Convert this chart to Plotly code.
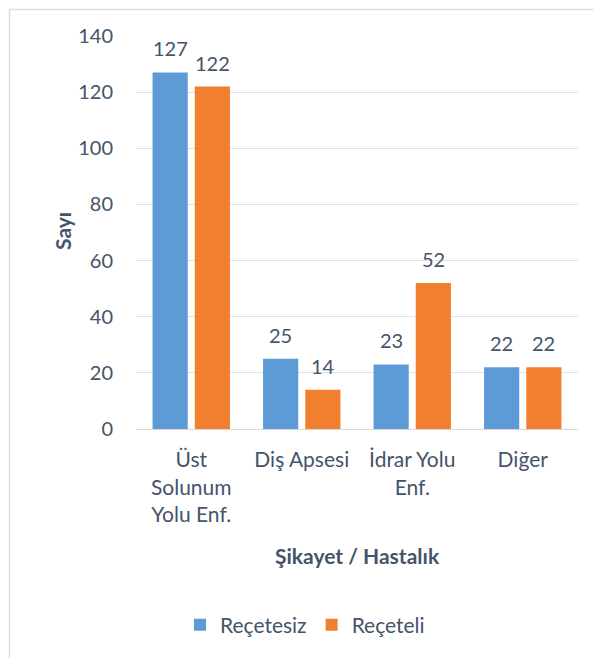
import plotly.graph_objects as go

categories = ["Üst<br>Solunum<br>Yolu Enf.", "Diş Apsesi", "İdrar Yolu<br>Enf.", "Diğer"]
receteliz = [127, 25, 23, 22]
receteli = [122, 14, 52, 22]
series_names = ["Reçetesiz", "Reçeteli"]
y_ticks = [0, 20, 40, 60, 80, 100, 120, 140]

OFF = 8  # page body margin
W, H = 601 - OFF, 658 - OFF
L, R, T, B = 136 - OFF, 578 - OFF, 36 - OFF, 429 - OFF
TXT = "#44546A"
FONT = "Lato"

def px_x(p):
    return (p - OFF - L) / (R - L)

def px_y(p):
    return (B - (p - OFF)) / (B - T)

fig = go.Figure()
fig.add_trace(go.Bar(name=series_names[0], x=categories, y=receteliz,
                     marker=dict(color="#5D9BD6", line=dict(width=0))))
fig.add_trace(go.Bar(name=series_names[1], x=categories, y=receteli,
                     marker=dict(color="#F07F30", line=dict(width=0))))

bargap = 0.236
groupgap = 0.167
slot = (1 - bargap) / 2
annotations = []
for si, vals in enumerate([receteliz, receteli]):
    off = (si - 0.5) * slot
    for ci, v in enumerate(vals):
        annotations.append(dict(x=ci + off, y=v, xref="x", yref="y", text=str(v),
                                showarrow=False, yshift=24, yanchor="middle",
                                font=dict(family=FONT, size=20, color=TXT)))

annotations.append(dict(x=px_x(357), y=px_y(555), xref="paper", yref="paper",
                        text="<b>Şikayet / Hastalık</b>", showarrow=False,
                        xanchor="center", yanchor="middle",
                        font=dict(family=FONT, size=21, color=TXT)))
annotations.append(dict(x=px_x(62), y=px_y(231), xref="paper", yref="paper",
                        text="<b>Sayı</b>", showarrow=False, textangle=-90,
                        xanchor="center", yanchor="middle",
                        font=dict(family=FONT, size=21, color=TXT)))

border = dict(color="#D9DCE1", width=1.5)
fig.update_layout(
    width=W, height=H,
    margin=dict(l=L, r=W - R, t=T, b=H - B, pad=0),
    paper_bgcolor="white", plot_bgcolor="white",
    barmode="group", bargap=bargap, bargroupgap=groupgap,
    font=dict(family=FONT, size=20, color=TXT),
    showlegend=True,
    legend=dict(orientation="h", x=px_x(305), y=px_y(625), xanchor="center",
                yanchor="middle", font=dict(family=FONT, size=21, color=TXT),
                itemwidth=30, tracegroupgap=0),
    annotations=annotations,
    shapes=[
        dict(type="line", xref="paper", yref="paper", x0=px_x(9.5), x1=px_x(9.5),
             y0=px_y(H + OFF), y1=px_y(9.5), line=border, layer="below"),
        dict(type="line", xref="paper", yref="paper", x0=px_x(9.5), x1=px_x(W + OFF),
             y0=px_y(9.5), y1=px_y(9.5), line=border, layer="below"),
    ],
)
fig.update_xaxes(showgrid=False, showline=True, linecolor="#D9D9D9", linewidth=1.2,
                 ticks="", ticklabelstandoff=12, tickfont=dict(family=FONT, size=21, color=TXT))
fig.update_yaxes(range=[0, 140], tickvals=y_ticks, showgrid=True, gridcolor="#DFE2E6",
                 gridwidth=1.2, zeroline=False, showline=False, ticks="",
                 ticklabelstandoff=22, tickfont=dict(family=FONT, size=20, color=TXT))

fig.write_html("out.html")
